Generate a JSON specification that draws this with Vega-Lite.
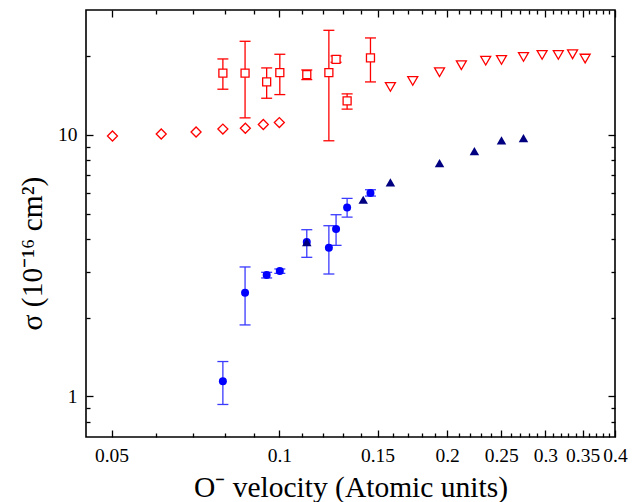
{
  "$schema": "https://vega.github.io/schema/vega-lite/v6.json",
  "autosize": "none",
  "width": 529,
  "height": 427,
  "padding": {"left": 86, "top": 10, "right": 22, "bottom": 65},
  "background": "white",
  "config": {
    "view": {"stroke": "#000000", "strokeWidth": 1.6},
    "axis": {
      "domain": false,
      "grid": false,
      "tickColor": "#000000",
      "tickWidth": 1.3,
      "labelFont": "Liberation Serif",
      "labelFontSize": 19.5,
      "labelColor": "#000000",
      "titleFont": "Liberation Serif",
      "titleFontSize": 29.5,
      "titleFontWeight": "normal",
      "titleColor": "#000000",
      "labelOverlap": false,
      "labelFlush": false
    }
  },
  "datasets": {
    "squares": [
      {"v": 0.0792, "s": 17.2, "lo": 14.94, "hi": 19.5},
      {"v": 0.0868, "s": 17.2, "lo": 11.61, "hi": 22.78},
      {"v": 0.0949, "s": 15.93, "lo": 13.8, "hi": 18.02},
      {"v": 0.1002, "s": 17.29, "lo": 14.25, "hi": 20.32},
      {"v": 0.112, "s": 16.99, "lo": 16.26, "hi": 17.7},
      {"v": 0.1227, "s": 17.29, "lo": 9.49, "hi": 25.09},
      {"v": 0.1264, "s": 19.44, "lo": 18.94, "hi": 20.02},
      {"v": 0.1323, "s": 13.48, "lo": 12.53, "hi": 14.34},
      {"v": 0.1457, "s": 19.67, "lo": 15.93, "hi": 23.46}
    ],
    "diamonds": [
      {"v": 0.0502, "s": 9.9},
      {"v": 0.0614, "s": 10.07},
      {"v": 0.0709, "s": 10.25},
      {"v": 0.0792, "s": 10.52},
      {"v": 0.0869, "s": 10.6},
      {"v": 0.0936, "s": 10.95},
      {"v": 0.1, "s": 11.14}
    ],
    "tridown": [
      {"v": 0.1582, "s": 15.25},
      {"v": 0.1735, "s": 16.07},
      {"v": 0.1938, "s": 17.35},
      {"v": 0.2121, "s": 18.45},
      {"v": 0.2345, "s": 19.21},
      {"v": 0.2503, "s": 19.33},
      {"v": 0.2741, "s": 19.85},
      {"v": 0.296, "s": 20.2},
      {"v": 0.3165, "s": 20.2},
      {"v": 0.3357, "s": 20.32},
      {"v": 0.3536, "s": 19.56}
    ],
    "circles": [
      {"v": 0.0792, "s": 1.144, "lo": 0.932, "hi": 1.36},
      {"v": 0.0868, "s": 2.494, "lo": 1.877, "hi": 3.126},
      {"v": 0.0949, "s": 2.913, "lo": 2.838, "hi": 2.982},
      {"v": 0.1002, "s": 3.017, "lo": 2.955, "hi": 3.071},
      {"v": 0.112, "s": 3.893, "lo": 3.403, "hi": 4.339},
      {"v": 0.1227, "s": 3.704, "lo": 2.938, "hi": 4.494},
      {"v": 0.1264, "s": 4.364, "lo": 3.781, "hi": 4.951},
      {"v": 0.1323, "s": 5.28, "lo": 4.851, "hi": 5.715},
      {"v": 0.1457, "s": 5.99, "lo": 5.834, "hi": 6.167}
    ],
    "triup": [
      {"v": 0.112, "s": 3.893},
      {"v": 0.1414, "s": 5.648},
      {"v": 0.1582, "s": 6.579},
      {"v": 0.1938, "s": 7.796},
      {"v": 0.2238, "s": 8.663},
      {"v": 0.2503, "s": 9.515},
      {"v": 0.2741, "s": 9.71}
    ]
  },
  "resolve": {"axis": {"x": "independent", "y": "independent"}},
  "layer": [
    {
      "data": {"name": "squares"},
      "mark": {"type": "rule", "color": "#ff0000", "strokeWidth": 1.3},
      "encoding": {
        "x": {"field": "v", "type": "quantitative",
          "scale": {"type": "log", "domain": [0.045, 0.4]},
          "axis": {"orient": "bottom", "values": [0.05, 0.1, 0.15, 0.2, 0.25, 0.3, 0.35, 0.4], "format": "~g", "tickSize": -7, "labelPadding": 16,
            "title": "O⁻ velocity (Atomic units)", "titleX": 264.5, "titleY": 59, "titleBaseline": "alphabetic", "titleAlign": "center"}},
        "y": {"field": "lo", "type": "quantitative",
          "scale": {"type": "log", "domain": [0.7, 30]},
          "axis": {"orient": "left", "values": [1, 10], "format": "~g", "tickSize": -7, "labelPadding": 16,
            "title": "σ (10⁻¹⁶ cm²)", "titleX": -54, "titleY": 243, "titleAngle": 270, "titleAlign": "center", "titleBaseline": "middle"}},
        "y2": {"field": "hi"}
      }
    },
    {
      "data": {"name": "squares"},
      "mark": {"type": "tick", "orient": "horizontal", "size": 11, "thickness": 1.3, "color": "#ff0000", "opacity": 1},
      "encoding": {
        "x": {"field": "v", "type": "quantitative", "scale": {"type": "log", "domain": [0.045, 0.4]},
          "axis": {"orient": "bottom", "values": [0.06, 0.07, 0.08, 0.09, 0.11, 0.12, 0.13, 0.14, 0.16, 0.17, 0.18, 0.19, 0.21, 0.22, 0.23, 0.24, 0.26, 0.27, 0.28, 0.29, 0.31, 0.32, 0.33, 0.34, 0.36, 0.37, 0.38, 0.39], "tickSize": -4, "labels": false, "title": null}},
        "y": {"field": "lo", "type": "quantitative", "scale": {"type": "log", "domain": [0.7, 30]},
          "axis": {"orient": "left", "values": [0.8, 0.9, 2, 3, 4, 5, 6, 7, 8, 9, 20], "tickSize": -4, "labels": false, "title": null}}
      }
    },
    {
      "data": {"name": "squares"},
      "mark": {"type": "tick", "orient": "horizontal", "size": 11, "thickness": 1.3, "color": "#ff0000", "opacity": 1},
      "encoding": {
        "x": {"field": "v", "type": "quantitative", "scale": {"type": "log", "domain": [0.045, 0.4]},
          "axis": {"orient": "top", "values": [0.05, 0.1, 0.15, 0.2, 0.25, 0.3, 0.35, 0.4], "tickSize": -7, "labels": false, "title": null}},
        "y": {"field": "hi", "type": "quantitative", "scale": {"type": "log", "domain": [0.7, 30]},
          "axis": {"orient": "right", "values": [1, 10], "tickSize": -7, "labels": false, "title": null}}
      }
    },
    {
      "data": {"name": "squares"},
      "mark": {"type": "point", "shape": "square", "size": 64, "filled": false, "fill": "#ffffff", "stroke": "#ff0000", "strokeWidth": 1.3, "opacity": 1},
      "encoding": {
        "x": {"field": "v", "type": "quantitative", "scale": {"type": "log", "domain": [0.045, 0.4]},
          "axis": {"orient": "top", "values": [0.06, 0.07, 0.08, 0.09, 0.11, 0.12, 0.13, 0.14, 0.16, 0.17, 0.18, 0.19, 0.21, 0.22, 0.23, 0.24, 0.26, 0.27, 0.28, 0.29, 0.31, 0.32, 0.33, 0.34, 0.36, 0.37, 0.38, 0.39], "tickSize": -4, "labels": false, "title": null}},
        "y": {"field": "s", "type": "quantitative", "scale": {"type": "log", "domain": [0.7, 30]},
          "axis": {"orient": "right", "values": [0.8, 0.9, 2, 3, 4, 5, 6, 7, 8, 9, 20], "tickSize": -4, "labels": false, "title": null}}
      }
    },
    {
      "data": {"name": "diamonds"},
      "mark": {"type": "point", "shape": "diamond", "size": 100, "filled": false, "fill": "#ffffff", "stroke": "#ff0000", "strokeWidth": 1.3, "opacity": 1},
      "encoding": {
        "x": {"field": "v", "type": "quantitative", "scale": {"type": "log", "domain": [0.045, 0.4]}, "axis": null},
        "y": {"field": "s", "type": "quantitative", "scale": {"type": "log", "domain": [0.7, 30]}, "axis": null}
      }
    },
    {
      "data": {"name": "tridown"},
      "mark": {"type": "point", "shape": "triangle-down", "size": 100, "filled": false, "fill": "#ffffff", "stroke": "#ff0000", "strokeWidth": 1.3, "opacity": 1},
      "encoding": {
        "x": {"field": "v", "type": "quantitative", "scale": {"type": "log", "domain": [0.045, 0.4]}, "axis": null},
        "y": {"field": "s", "type": "quantitative", "scale": {"type": "log", "domain": [0.7, 30]}, "axis": null}
      }
    },
    {
      "data": {"name": "circles"},
      "mark": {"type": "rule", "color": "#3a3aff", "strokeWidth": 1.3},
      "encoding": {
        "x": {"field": "v", "type": "quantitative", "scale": {"type": "log", "domain": [0.045, 0.4]}, "axis": null},
        "y": {"field": "lo", "type": "quantitative", "scale": {"type": "log", "domain": [0.7, 30]}, "axis": null},
        "y2": {"field": "hi"}
      }
    },
    {
      "data": {"name": "circles"},
      "mark": {"type": "tick", "orient": "horizontal", "size": 11, "thickness": 1.3, "color": "#3a3aff", "opacity": 1},
      "encoding": {
        "x": {"field": "v", "type": "quantitative", "scale": {"type": "log", "domain": [0.045, 0.4]}, "axis": null},
        "y": {"field": "lo", "type": "quantitative", "scale": {"type": "log", "domain": [0.7, 30]}, "axis": null}
      }
    },
    {
      "data": {"name": "circles"},
      "mark": {"type": "tick", "orient": "horizontal", "size": 11, "thickness": 1.3, "color": "#3a3aff", "opacity": 1},
      "encoding": {
        "x": {"field": "v", "type": "quantitative", "scale": {"type": "log", "domain": [0.045, 0.4]}, "axis": null},
        "y": {"field": "hi", "type": "quantitative", "scale": {"type": "log", "domain": [0.7, 30]}, "axis": null}
      }
    },
    {
      "data": {"name": "circles"},
      "mark": {"type": "point", "shape": "circle", "size": 64, "filled": true, "color": "#0000ff", "opacity": 1},
      "encoding": {
        "x": {"field": "v", "type": "quantitative", "scale": {"type": "log", "domain": [0.045, 0.4]}, "axis": null},
        "y": {"field": "s", "type": "quantitative", "scale": {"type": "log", "domain": [0.7, 30]}, "axis": null}
      }
    },
    {
      "data": {"name": "triup"},
      "mark": {"type": "point", "shape": "triangle-up", "size": 90, "filled": true, "color": "#000080", "opacity": 1},
      "encoding": {
        "x": {"field": "v", "type": "quantitative", "scale": {"type": "log", "domain": [0.045, 0.4]}, "axis": null},
        "y": {"field": "s", "type": "quantitative", "scale": {"type": "log", "domain": [0.7, 30]}, "axis": null}
      }
    }
  ]
}
